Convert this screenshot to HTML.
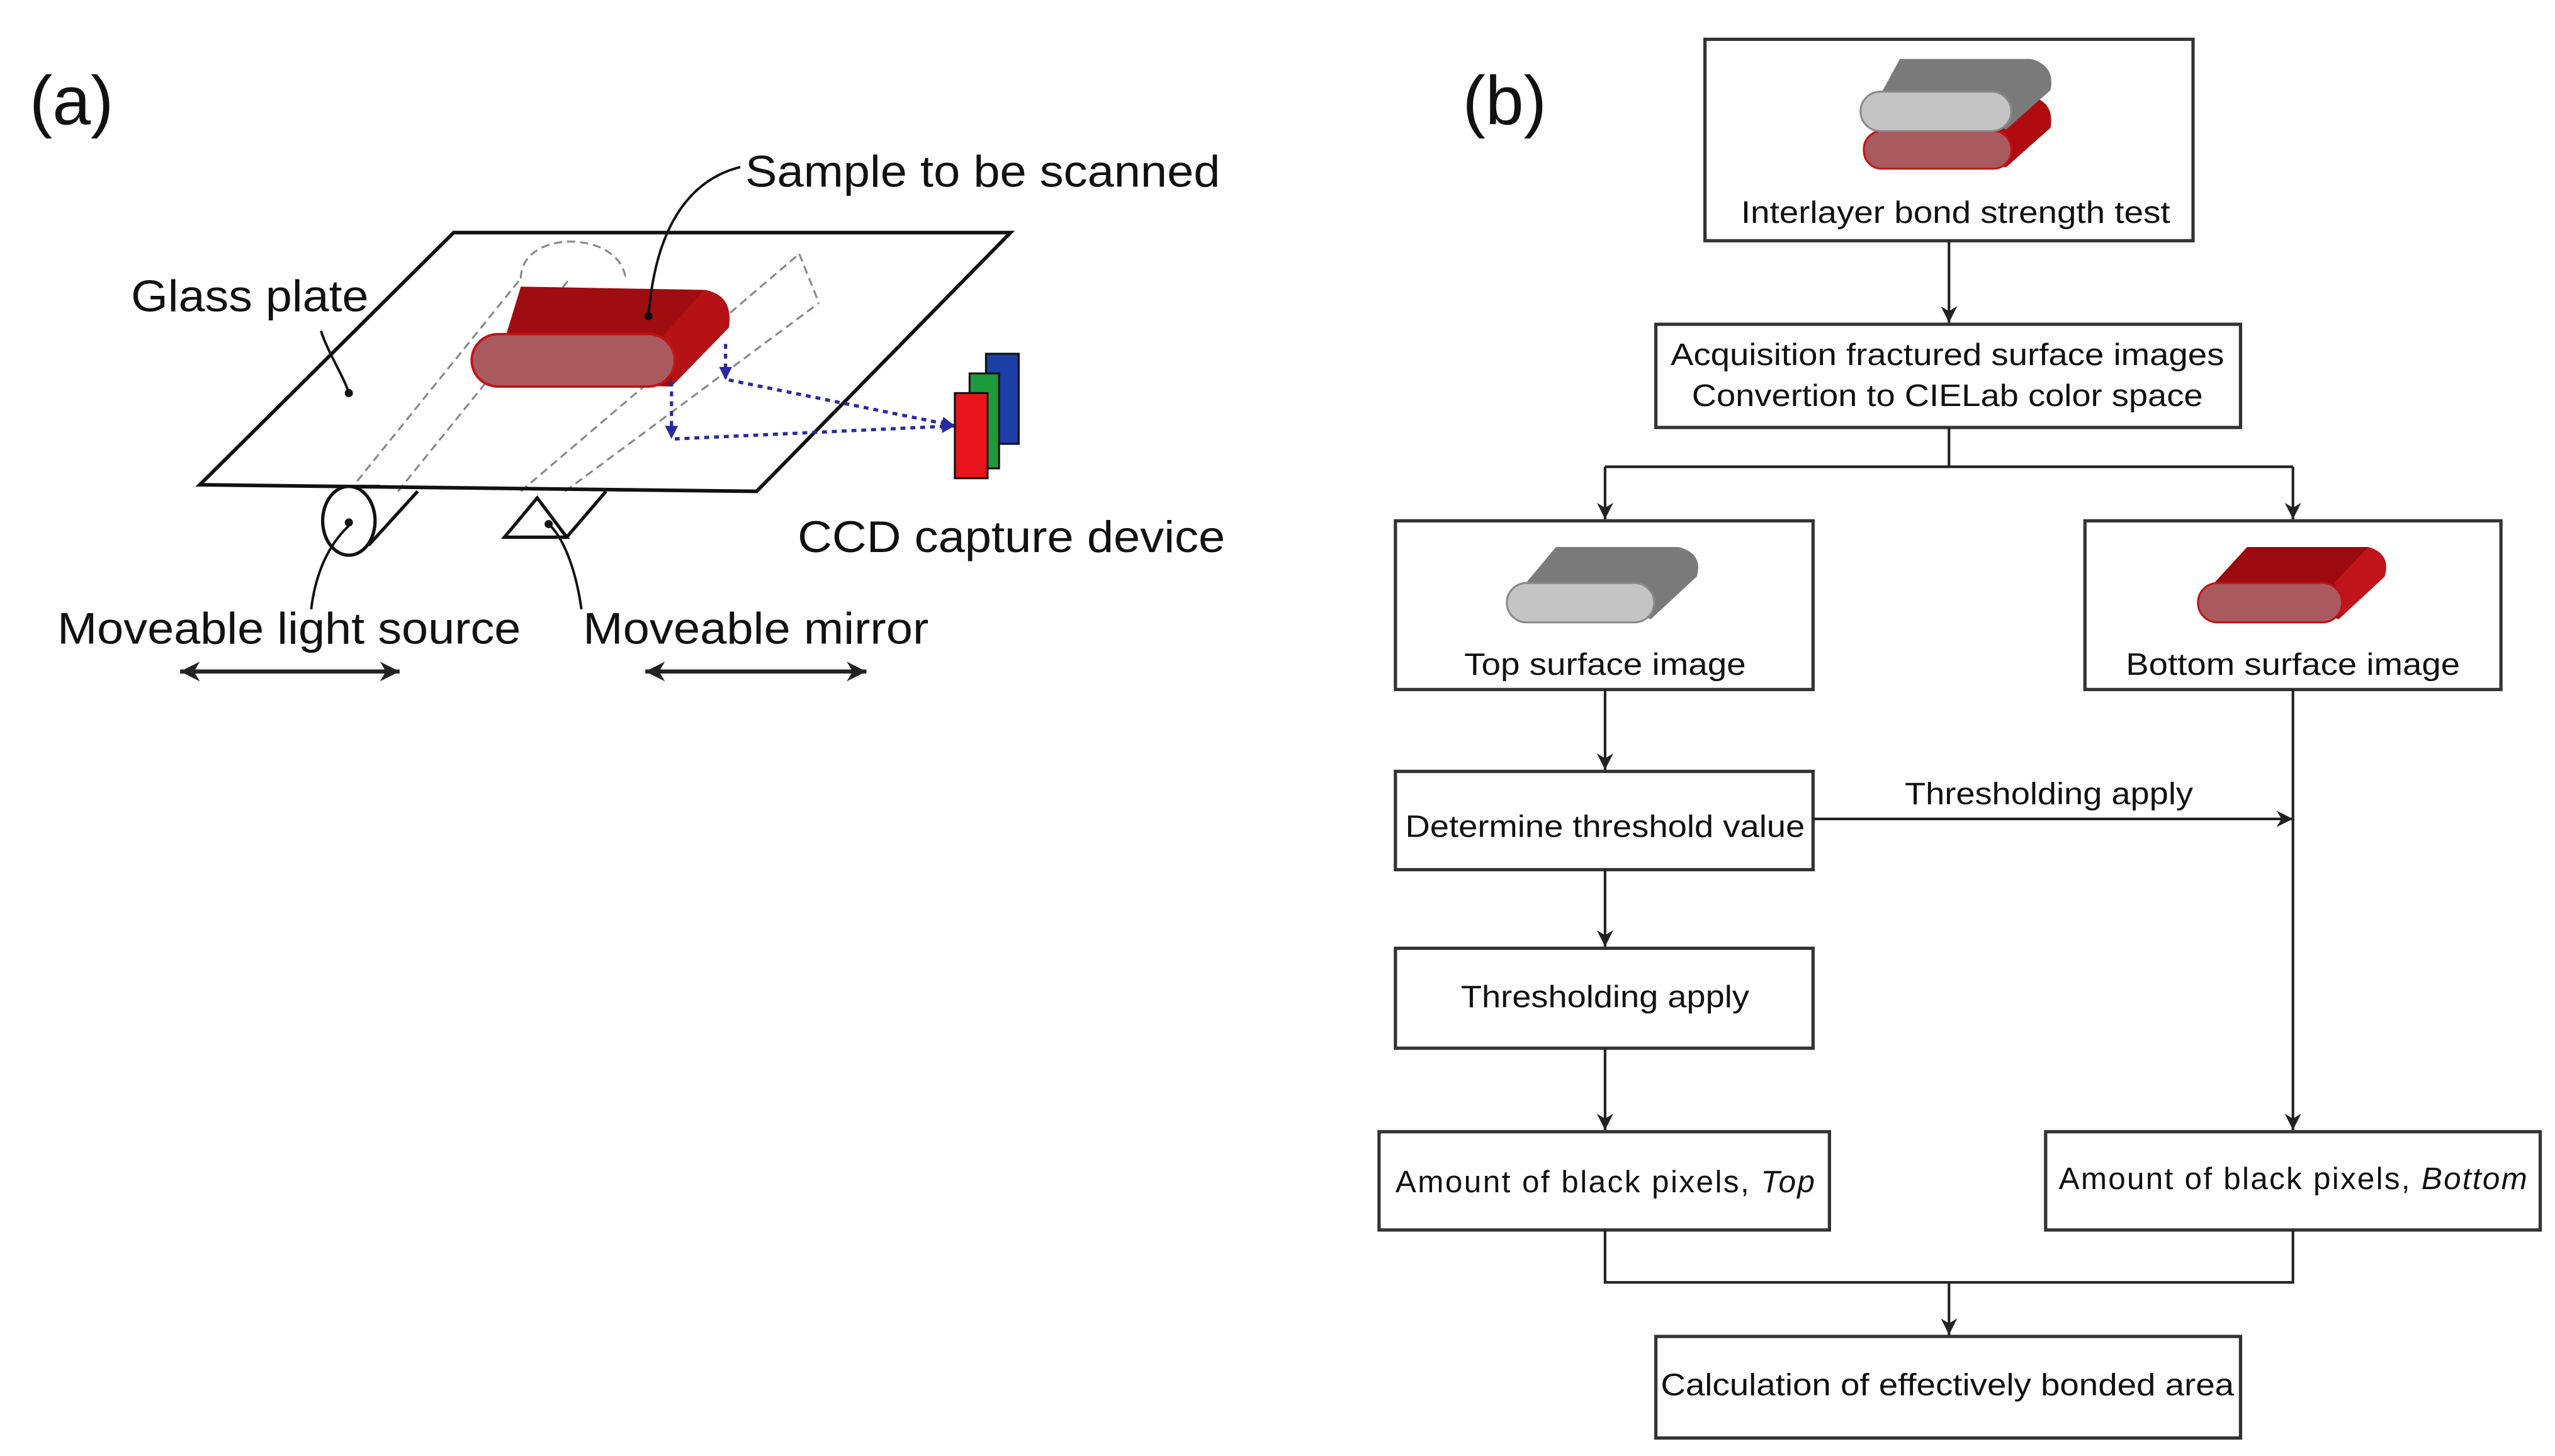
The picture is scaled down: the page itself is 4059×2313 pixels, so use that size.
<!DOCTYPE html>
<html><head><meta charset="utf-8"><style>
html,body{margin:0;padding:0;background:#fff;}
svg{display:block;}
text{font-family:"Liberation Sans",sans-serif;fill:#111;}
</style></head><body>
<svg width="4059" height="2313" viewBox="0 0 1560 889" preserveAspectRatio="none" xmlns="http://www.w3.org/2000/svg">
<defs>
<marker id="ah" viewBox="0 0 10 10" refX="10" refY="5" markerWidth="10" markerHeight="10" markerUnits="userSpaceOnUse" orient="auto"><path d="M0,0 L10,5 L0,10 L3,5 z" fill="#222"/></marker>
<marker id="bh" viewBox="0 0 10 10" refX="10" refY="5" markerWidth="8" markerHeight="8" markerUnits="userSpaceOnUse" orient="auto"><path d="M0,0 L10,5 L0,10 z" fill="#2a2aa0"/></marker>
<marker id="dh" viewBox="0 0 10 10" refX="10" refY="5" markerWidth="12" markerHeight="12" markerUnits="userSpaceOnUse" orient="auto-start-reverse"><path d="M0,0 L10,5 L0,10 L3,5 z" fill="#222"/></marker>
</defs>

<text x="18" y="76" font-size="42">(a)</text>
<text x="893" y="76" font-size="42">(b)</text>

<g stroke="#888" stroke-width="1.2" fill="none" stroke-dasharray="5,3">
<path d="M213,300 L318,170"/>
<path d="M243,300 L348,170"/>
<path d="M318,170 C318,140 378,140 382,170"/>
<path d="M318,300 L488,155"/>
<path d="M345,300 L500,185"/>
<path d="M488,155 L500,185"/>
</g>
<path d="M277,142 L617,142 L462,300 L122,296 Z" fill="none" stroke="#111" stroke-width="2.2"/>
<ellipse cx="213" cy="318" rx="16" ry="21" fill="#fff" stroke="#111" stroke-width="2"/>
<path d="M225,333 L255,300 M218,297 L232,297" stroke="#111" stroke-width="2" fill="none"/>
<circle cx="213" cy="319" r="2.5" fill="#111"/>
<path d="M308,328 L328,304 L346,328 Z" fill="#fff" stroke="#111" stroke-width="2"/>
<path d="M346,328 L370,300" stroke="#111" stroke-width="2"/>
<circle cx="335" cy="320" r="2.5" fill="#111"/>

<path d="M318,175 L430,177 Q448,180 445,200 L410,236 L300,234 Z" fill="#a00d10"/>
<path d="M430,177 Q448,180 445,200 L410,236 Q412,210 405,205 Z" fill="#b51216"/>
<rect x="288" y="204" width="124" height="32" rx="16" ry="16" fill="#a85a5e" stroke="#c01418" stroke-width="1.5"/>

<g stroke="#2a2aa0" stroke-width="2" stroke-dasharray="3,3" fill="none">
<path d="M410,233 L410,268" marker-end="url(#bh)"/>
<path d="M412,268 L583,260" marker-end="url(#bh)"/>
<path d="M443,210 L443,232" marker-end="url(#bh)"/>
<path d="M445,232 L583,260" marker-end="url(#bh)"/>
</g>
<rect x="602" y="216" width="20" height="55" fill="#1c3fa8" stroke="#111" stroke-width="1.2"/>
<rect x="592" y="228" width="18" height="58" fill="#1e9a3a" stroke="#111" stroke-width="1.2"/>
<rect x="583" y="240" width="20" height="52" fill="#e8141c" stroke="#111" stroke-width="1.2"/>

<path d="M452,102 C420,110 400,140 396,193" stroke="#111" stroke-width="1.5" fill="none"/>
<circle cx="396" cy="193" r="2.5" fill="#111"/>
<path d="M196,202 C200,215 210,230 213,240" stroke="#111" stroke-width="1.5" fill="none"/>
<circle cx="213" cy="240" r="2.5" fill="#111"/>
<path d="M213,321 C198,335 192,355 190,372" stroke="#111" stroke-width="1.5" fill="none"/>
<path d="M336,321 C345,330 352,350 355,372" stroke="#111" stroke-width="1.5" fill="none"/>

<text x="455" y="114" font-size="27" textLength="290" lengthAdjust="spacingAndGlyphs">Sample to be scanned</text>
<text x="80" y="190" font-size="27" textLength="145" lengthAdjust="spacingAndGlyphs">Glass plate</text>
<text x="487" y="337" font-size="27" textLength="261" lengthAdjust="spacingAndGlyphs">CCD capture device</text>
<text x="35" y="393" font-size="27" textLength="283" lengthAdjust="spacingAndGlyphs">Moveable light source</text>
<text x="356" y="393" font-size="27" textLength="211" lengthAdjust="spacingAndGlyphs">Moveable mirror</text>
<path d="M110,410 L244,410" stroke="#222" stroke-width="2.5" marker-start="url(#dh)" marker-end="url(#dh)"/>
<path d="M394,410 L529,410" stroke="#222" stroke-width="2.5" marker-start="url(#dh)" marker-end="url(#dh)"/>

<g fill="#fff" stroke="#333" stroke-width="2">
<rect x="1041" y="24" width="298" height="123"/>
<rect x="1011" y="198" width="357" height="63"/>
<rect x="852" y="318" width="255" height="103"/>
<rect x="1273" y="318" width="254" height="103"/>
<rect x="852" y="471" width="255" height="60"/>
<rect x="852" y="579" width="255" height="61"/>
<rect x="842" y="691" width="275" height="60"/>
<rect x="1249" y="691" width="302" height="60"/>
<rect x="1011" y="816" width="357" height="62"/>
</g>
<g stroke="#222" stroke-width="1.6" fill="none">
<path d="M1190,147 L1190,197" marker-end="url(#ah)"/>
<path d="M1190,261 L1190,285 M980,285 L1400,285"/>
<path d="M980,285 L980,317" marker-end="url(#ah)"/>
<path d="M1400,285 L1400,317" marker-end="url(#ah)"/>
<path d="M980,421 L980,470" marker-end="url(#ah)"/>
<path d="M1107,500 L1400,500" marker-end="url(#ah)"/>
<path d="M1400,421 L1400,690" marker-end="url(#ah)"/>
<path d="M980,531 L980,578" marker-end="url(#ah)"/>
<path d="M980,640 L980,690" marker-end="url(#ah)"/>
<path d="M980,751 L980,783 L1400,783 L1400,751"/>
<path d="M1190,783 L1190,815" marker-end="url(#ah)"/>
</g>

<g>
<path d="M1150,80 L1235,58 Q1255,60 1252,78 L1225,102 L1150,102 Z" fill="#b00c10"/>
<rect x="1138" y="80" width="90" height="23" rx="11" fill="#a85a5e" stroke="#c01418" stroke-width="1.2"/>
<path d="M1160,36 L1240,36 Q1255,40 1252,55 L1225,79 L1148,58 Z" fill="#7a7a7a"/>
<rect x="1136" y="56" width="92" height="24" rx="12" fill="#c4c4c4" stroke="#8a8a8a" stroke-width="1.2"/>
<path d="M950,334 L1025,334 Q1040,338 1036,352 L1008,378 L930,358 Z" fill="#7a7a7a"/>
<rect x="920" y="356" width="90" height="24" rx="12" fill="#c4c4c4" stroke="#8a8a8a" stroke-width="1.2"/>
<path d="M1372,334 L1446,334 Q1460,338 1456,352 L1428,378 L1350,358 Z" fill="#9a0a0e"/>
<path d="M1446,334 Q1460,338 1456,352 L1428,378 Q1430,360 1425,356 Z" fill="#c0141a"/>
<rect x="1342" y="356" width="88" height="24" rx="12" fill="#a85a5e" stroke="#c01418" stroke-width="1.2"/>
</g>

<g font-size="19" text-anchor="middle">
<text x="1194" y="136" textLength="262" lengthAdjust="spacingAndGlyphs">Interlayer bond strength test</text>
<text x="1189" y="223" textLength="338" lengthAdjust="spacingAndGlyphs">Acquisition fractured surface images</text>
<text x="1189" y="248" textLength="312" lengthAdjust="spacingAndGlyphs">Convertion to CIELab color space</text>
<text x="980" y="412" textLength="172" lengthAdjust="spacingAndGlyphs">Top surface image</text>
<text x="1400" y="412" textLength="204" lengthAdjust="spacingAndGlyphs">Bottom surface image</text>
<text x="980" y="511" textLength="244" lengthAdjust="spacingAndGlyphs">Determine threshold value</text>
<text x="1251" y="491" textLength="176" lengthAdjust="spacingAndGlyphs">Thresholding apply</text>
<text x="980" y="615" textLength="176" lengthAdjust="spacingAndGlyphs">Thresholding apply</text>
<text x="980" y="728" textLength="256">Amount of black pixels, <tspan font-style="italic">Top</tspan></text>
<text x="1400" y="726" textLength="286">Amount of black pixels, <tspan font-style="italic">Bottom</tspan></text>
<text x="1189" y="852" textLength="350" lengthAdjust="spacingAndGlyphs">Calculation of effectively bonded area</text>
</g>
</svg>
</body></html>
